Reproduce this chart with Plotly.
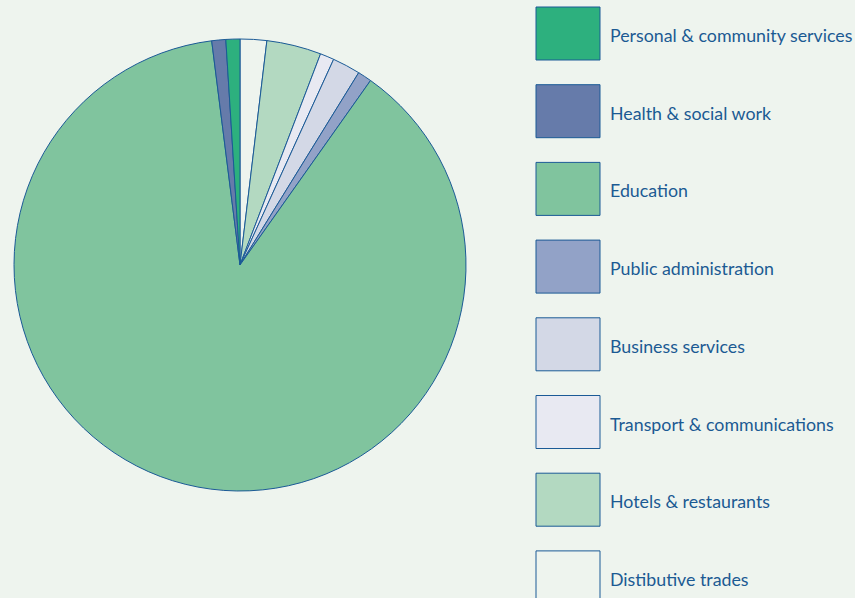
import plotly.graph_objects as go

# Share of employment by sector (percent), in legend order
sectors = [
    "Personal & community services",
    "Health & social work",
    "Education",
    "Public administration",
    "Business services",
    "Transport & communications",
    "Hotels & restaurants",
    "Distibutive trades",
]
shares = [1.0, 1.0, 88.2, 1.0, 2.0, 1.0, 3.9, 1.9]
colors = ["#2DB07E", "#667BAA", "#80C49E", "#92A2C7",
          "#D3D8E6", "#E8E9F2", "#B3D9C1", "#EEF4EE"]

BG = "#EEF4EE"
EDGE = "#1B5A96"
TEXT = "#1B5A93"
W, H = 855, 598

fig = go.Figure()

# Slices run clockwise from 12 o'clock, starting with the last legend entry
fig.add_trace(go.Pie(
    labels=sectors[::-1],
    values=shares[::-1],
    sort=False,
    direction="clockwise",
    rotation=0,
    marker=dict(colors=colors[::-1], line=dict(color=EDGE, width=1)),
    textinfo="none",
    hoverinfo="label+percent",
    showlegend=False,
    domain=dict(x=[14 / W, 466 / W], y=[1 - 491 / H, 1 - 39 / H]),
))

# Legend: large swatches with labels, stacked down the right side
box_x0, box_x1 = 536, 600
box_h = 53
top0, pitch = 7, 77.7
for i, (name, col) in enumerate(zip(sectors, colors)):
    y0 = top0 + i * pitch
    fig.add_shape(type="rect", xref="x", yref="y",
                  x0=box_x0, x1=box_x1, y0=y0, y1=y0 + box_h,
                  fillcolor=col, line=dict(color=EDGE, width=1), layer="above")
    fig.add_annotation(x=608, y=y0 + box_h / 2 + 1.5, xref="x", yref="y",
                       text=name, showarrow=False, xanchor="left", yanchor="middle",
                       font=dict(family="Lato, sans-serif", size=17.8, color=TEXT))

fig.update_layout(
    width=W, height=H,
    margin=dict(l=0, r=0, t=0, b=0),
    paper_bgcolor=BG, plot_bgcolor=BG,
    xaxis=dict(range=[0, W], visible=False, fixedrange=True),
    yaxis=dict(range=[H, 0], visible=False, fixedrange=True),
)

fig.write_html("out.html")
